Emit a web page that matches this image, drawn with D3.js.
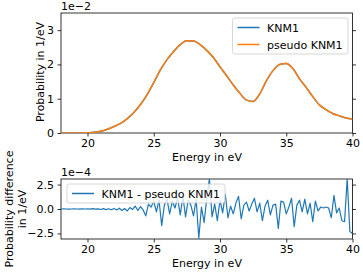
<!DOCTYPE html>
<html>
<head>
<meta charset="utf-8">
<script src="https://cdn.jsdelivr.net/npm/d3@7"></script>
<style>
	body { margin: 0; background: #fff; }
	svg { display: block; font-family: "DejaVu Sans", sans-serif; }
</style>
</head>
<body>
<svg id="chart" width="363" height="272"></svg>
<script>

// energy grid of the top curves (eV)
var energyTop = [18, 18.5, 19, 19.5, 20, 20.5, 21, 21.5, 22, 22.5, 23, 23.5, 24, 24.5,
	25, 25.5, 26, 26.5, 27, 27.5, 28, 28.5, 29, 29.5, 30, 30.5, 31, 31.5, 32, 32.5,
	33, 33.5, 34, 34.5, 35, 35.5, 36, 36.5, 37, 37.5, 38, 38.5, 39, 39.5, 40];

// probability in units of 1e-2 / eV
var knm1 = [0, 0, 0, 0.002, 0.008, 0.02, 0.05, 0.11, 0.19, 0.28, 0.42, 0.6, 0.83, 1.12,
	1.47, 1.84, 2.14, 2.38, 2.58, 2.69, 2.68, 2.58, 2.41, 2.2, 1.93, 1.67, 1.4, 1.16, 0.96, 0.92,
	1.14, 1.52, 1.82, 2.0, 2.03, 1.88, 1.58, 1.33, 1.06, 0.82, 0.68, 0.57, 0.5, 0.44, 0.41];

var pseudoKnm1 = [0, 0, 0, 0.002, 0.008, 0.02, 0.05, 0.11, 0.19, 0.28, 0.42, 0.6, 0.83, 1.12,
	1.47, 1.84, 2.14, 2.38, 2.58, 2.69, 2.68, 2.58, 2.41, 2.2, 1.93, 1.67, 1.4, 1.16, 0.96, 0.92,
	1.14, 1.52, 1.82, 2.0, 2.03, 1.88, 1.58, 1.33, 1.06, 0.82, 0.68, 0.57, 0.5, 0.44, 0.41];

// difference KNM1 - pseudo KNM1, units of 1e-4 / eV, on a 0.2 eV grid from 18 to 40
var diffStep = 0.2;
var diff = [
	0, 0.01, 0, -0.01, 0,
	0.01, 0, -0.02, 0.01, 0,
	0.02, -0.02, 0.03, -0.01, 0.02,
	-0.05, 0.04, -0.06, 0.03, -0.08,
	0.05, -0.1, 0.08, -0.15, 0.05,
	-0.2, 0.15, -0.05, 0.3, -0.15,
	0.25, -0.1, -0.7, 0.5, 0.2,
	0.8, -0.3, 0.9, -1.7, 0.4,
	1.0, -0.5, 0.8, 0.1, 1.1,
	-0.6, 1.3, -0.8, 0.9, 0.4,
	-0.7, 1.0, -3.0, 0.2, -1.4,
	1.1, 3.1, -0.8, 0.5, -1.2,
	0.9, -0.4, 1.5, -0.9, 0.3,
	-0.5, 0.6, 1.3, -1.0, 0.4,
	0.7, -0.2, 0.5, 1.1, -0.3,
	0.6, -1.2, 0.3, 0.9, -0.6,
	0.4, 0.5, -2.0, 0.8, 0.7,
	-0.5, 0.2, 1.1, -1.8, 0.4,
	0.9, -0.3, 1.0, -0.5, 0.6,
	-1.3, 0.8, -0.2, 0.2, 0.1,
	0.2, 0.1, -0.9, 1.4, -0.4,
	0.1, -1.2, -1.3, 3.1, -2.3,
	-2.5];

var xTicks 		= [20, 25, 30, 35, 40];
var topTicks 	= [0, 1, 2, 3];
var bottomTicks = [-2.5, 0, 2.5];

var BLUE 	= "#1f77b4";
var ORANGE 	= "#ff7f0e";
var FONT 	= 11;

var svg = d3.select("#chart");

var x = d3.scaleLinear().domain([18, 40]).range([61, 352.5]);
var yTop = d3.scaleLinear().domain([0, 3.5]).range([133, 13]);
var yBot = d3.scaleLinear().domain([-3.07, 3.07]).range([239, 179]);

function fmt(v, digits) {
	return v.toFixed(digits).replace("-", "\u2212");
}

function drawPanel(y, ticks, digits, top, bottom, name) {

	svg.append("clipPath").attr("id", name)
		.append("rect")
		.attr("x", x.range()[0]).attr("y", top)
		.attr("width", x.range()[1] - x.range()[0]).attr("height", bottom - top);

	var g = svg.append("g");

	g.append("g")
		.attr("transform", "translate(0," + bottom + ")")
		.call(d3.axisBottom(x).tickValues(xTicks).tickSize(3.5).tickPadding(2.5).tickFormat(d3.format("d")));

	g.append("g")
		.attr("transform", "translate(" + x.range()[0] + ",0)")
		.call(d3.axisLeft(y).tickValues(ticks).tickSize(3.5).tickPadding(3.5).tickFormat(function(d) { return fmt(d, digits); }));

	g.append("g")
		.attr("transform", "translate(" + x.range()[1] + ",0)")
		.call(d3.axisRight(y).tickValues(ticks).tickSize(3.5).tickFormat(""));

	g.selectAll(".domain").remove();
	g.selectAll(".tick line").attr("stroke", "#000").attr("stroke-width", 0.8);
	g.selectAll(".tick text").attr("font-size", FONT).attr("fill", "#000")
		.attr("font-family", "DejaVu Sans, sans-serif");

	g.append("rect")
		.attr("x", x.range()[0]).attr("y", top)
		.attr("width", x.range()[1] - x.range()[0]).attr("height", bottom - top)
		.attr("fill", "none").attr("stroke", "#000").attr("stroke-width", 0.8);

	return g;
}

// ---- top panel
var gTop = drawPanel(yTop, topTicks, 0, 13, 133, "clipTop");

var lineTop = d3.line()
	.x(function(d, i) { return x(energyTop[i]); })
	.y(function(d) { return yTop(d); })
	.curve(d3.curveMonotoneX);

svg.append("path").datum(knm1)
	.attr("d", lineTop).attr("fill", "none")
	.attr("stroke", BLUE).attr("stroke-width", 1.5)
	.attr("clip-path", "url(#clipTop)");

svg.append("path").datum(pseudoKnm1)
	.attr("d", lineTop).attr("fill", "none")
	.attr("stroke", ORANGE).attr("stroke-width", 1.5)
	.attr("clip-path", "url(#clipTop)");

// ---- bottom panel
var gBot = drawPanel(yBot, bottomTicks, 1, 179, 239, "clipBot");

var lineBot = d3.line()
	.x(function(d, i) { return x(18 + i * diffStep); })
	.y(function(d) { return yBot(d); });

svg.append("path").datum(diff)
	.attr("d", lineBot).attr("fill", "none")
	.attr("stroke", BLUE).attr("stroke-width", 1.2)
	.attr("stroke-linejoin", "round")
	.attr("clip-path", "url(#clipBot)");

// ---- texts
function label(txt, px, py, rot, anchor) {
	var t = svg.append("text")
		.attr("font-size", FONT)
		.attr("text-anchor", anchor || "middle")
		.text(txt);
	if ( rot ) {
		t.attr("transform", "translate(" + px + "," + py + ") rotate(-90)");
	}
	else {
		t.attr("x", px).attr("y", py);
	}
	return t;
}

label("Energy in eV", 207, 160.5);
label("Energy in eV", 207, 266.5);
label("1e\u22122", 61, 10, false, "start");
label("1e\u22124", 61, 176, false, "start");
label("Probability in 1/eV", 43.5, 72, true);
label("Probability difference", 12.5, 209, true);
label("in 1/eV", 25.5, 209, true);

// ---- legends
function legend(items, lx, ly, w) {

	var g = svg.append("g");

	g.append("rect")
		.attr("x", lx).attr("y", ly)
		.attr("width", w).attr("height", items.length * 17 + 2)
		.attr("rx", 2.5)
		.attr("fill", "#fff").attr("fill-opacity", 0.8)
		.attr("stroke", "#ccc").attr("stroke-width", 0.8);

	items.forEach(function(it, i) {

		var cy = ly + 9.5 + i * 17;

		g.append("line")
			.attr("x1", lx + 5).attr("x2", lx + 27)
			.attr("y1", cy).attr("y2", cy)
			.attr("stroke", it.color).attr("stroke-width", 1.5);

		g.append("text")
			.attr("x", lx + 34.5).attr("y", cy + 4)
			.attr("font-size", FONT)
			.text(it.name);
	});
}

legend([{ name: "KNM1", color: BLUE }, { name: "pseudo KNM1", color: ORANGE }], 232.5, 18, 115.5);
legend([{ name: "KNM1 - pseudo KNM1", color: BLUE }], 67, 184, 158);

</script>
</body>
</html>
